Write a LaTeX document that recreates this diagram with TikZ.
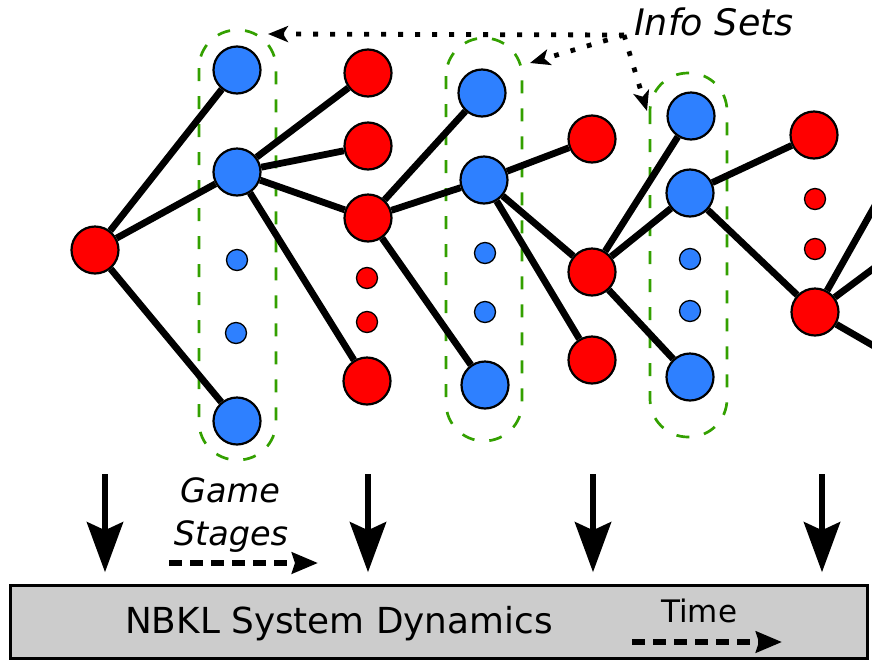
\documentclass[tikz,border=0pt]{standalone}
\usepackage{fontspec}
\setmainfont{DejaVu Sans}
\usetikzlibrary{arrows.meta}
\definecolor{nodered}{RGB}{255,0,0}
\definecolor{nodeblue}{RGB}{46,128,255}
\definecolor{setgreen}{RGB}{51,160,0}
\definecolor{boxgray}{RGB}{204,204,204}
\pgfdeclarelayer{setlayer}
\pgfdeclarelayer{edgelayer}
\pgfsetlayers{setlayer,edgelayer,main}
\begin{document}
\begin{tikzpicture}[x=1pt,y=-1pt,
  bigred/.style={circle,draw=black,line width=2.2pt,fill=nodered,minimum size=47pt,inner sep=0pt},
  bigblue/.style={circle,draw=black,line width=2.2pt,fill=nodeblue,minimum size=47pt,inner sep=0pt},
  smallred/.style={circle,draw=black,line width=1.3pt,fill=nodered,minimum size=21pt,inner sep=0pt},
  smallblue/.style={circle,draw=black,line width=1.3pt,fill=nodeblue,minimum size=21pt,inner sep=0pt},
  edge/.style={line width=6.8pt,black},
  infoset/.style={draw=setgreen,line width=2.7pt,dash pattern=on 13pt off 15pt,rounded corners=38pt},
  infoarrow/.style={line width=4.8pt,dash pattern=on 4.8pt off 12.2pt,-{Stealth[length=20pt,width=16pt,inset=5pt]}},
  bigarrow/.style={line width=6.5pt,-{Stealth[length=50pt,width=36pt,inset=8pt]}},
  dasharrow/.style={line width=5.5pt,dash pattern=on 13pt off 8pt,-{Stealth[length=26pt,width=21pt,inset=3pt]}},
  lbl/.style={inner sep=0pt}
]
\useasboundingbox (0,0) rectangle (872,662);
\clip (0,0) rectangle (872,662);

% nodes
\node[bigred]  (R0)  at (95,250) {};
\node[bigblue] (B1a) at (237,70) {};
\node[bigblue] (B1b) at (237,172) {};
\node[smallblue] (b1s1) at (237,260) {};
\node[smallblue] (b1s2) at (236,333) {};
\node[bigblue] (B1c) at (237,421) {};
\node[bigred]  (R2a) at (368,73) {};
\node[bigred]  (R2b) at (368,146) {};
\node[bigred]  (R2c) at (368,218) {};
\node[smallred] (r2s1) at (367,278) {};
\node[smallred] (r2s2) at (367,322) {};
\node[bigred]  (R2d) at (367,381) {};
\node[bigblue] (B3a) at (482,93) {};
\node[bigblue] (B3b) at (484,180) {};
\node[smallblue] (b3s1) at (485,253) {};
\node[smallblue] (b3s2) at (485,312) {};
\node[bigblue] (B3c) at (485,385) {};
\node[bigred]  (R4a) at (592,139) {};
\node[bigred]  (R4b) at (592,272) {};
\node[bigred]  (R4c) at (592,360) {};
\node[bigblue] (B5a) at (691,116) {};
\node[bigblue] (B5b) at (690,193) {};
\node[smallblue] (b5s1) at (690,259) {};
\node[smallblue] (b5s2) at (690,311) {};
\node[bigblue] (B5c) at (690,377) {};
\node[bigred]  (R6a) at (814,135) {};
\node[smallred] (r6s1) at (815,199) {};
\node[smallred] (r6s2) at (815,249) {};
\node[bigred]  (R6b) at (815,312) {};
\coordinate (o1) at (895,170);
\coordinate (o2) at (905,245);
\coordinate (o3) at (905,364);

% info sets
\begin{pgfonlayer}{setlayer}
\draw[infoset] (199,30) rectangle (276,460);
\draw[infoset] (446,38) rectangle (522,441);
\draw[infoset] (650,73) rectangle (727,437);
\end{pgfonlayer}

% edges
\begin{pgfonlayer}{edgelayer}
\foreach \a/\b in {R0/B1a,R0/B1b,R0/B1c,
  B1b/R2a,B1b/R2b,B1b/R2c,B1b/R2d,
  R2c/B3a,R2c/B3b,R2c/B3c,
  B3b/R4a,B3b/R4b,B3b/R4c,
  R4b/B5a,R4b/B5b,R4b/B5c,
  B5b/R6a,B5b/R6b,
  R6b/o1,R6b/o2,R6b/o3}
  \draw[edge] (\a) -- (\b);
\end{pgfonlayer}

% info sets label and arrows
\node[lbl,anchor=base west,font=\fontsize{36.5}{42}\selectfont\itshape] (infolabel) at (634,35) {Info Sets};
\coordinate (src) at (624,35);
\coordinate (tip1) at (268,34);
\coordinate (tip2) at (530,63);
\coordinate (tip3) at (647,111);
\draw[infoarrow] (src) -- (tip1);
\draw[infoarrow] (src) -- (tip2);
\draw[infoarrow] (src) -- (tip3);

% system box
\node[draw=black,line width=2.5pt,fill=boxgray,minimum width=857pt,minimum height=73pt,inner sep=0pt] (sysbox) at (439,622) {};
\node[lbl,anchor=base west,font=\fontsize{35.8}{41}\selectfont] (nbkl) at (125,633) {NBKL System Dynamics};
\node[lbl,anchor=base west,font=\fontsize{31}{36}\selectfont] (timelabel) at (661,622) {Time};
\coordinate (ts) at (632,642);
\coordinate (te) at (782,642);
\draw[dasharrow] (ts) -- (te);

% game stages
\node[lbl,anchor=base,font=\fontsize{33.5}{38}\selectfont\itshape] (gamelabel) at (230,502) {Game};
\node[lbl,anchor=base,font=\fontsize{33.5}{38}\selectfont\itshape] (stageslabel) at (231,545) {Stages};
\coordinate (gs) at (169,563);
\coordinate (ge) at (318,563);
\draw[dasharrow] (gs) -- (ge);

% vertical arrows
\foreach \n/\x in {1/105,2/368,3/593,4/822}{
  \coordinate (s\n) at (\x,474);
  \draw[bigarrow,shorten >=12pt] (s\n) -- (s\n |- sysbox.north);
}
\end{tikzpicture}
\end{document}
